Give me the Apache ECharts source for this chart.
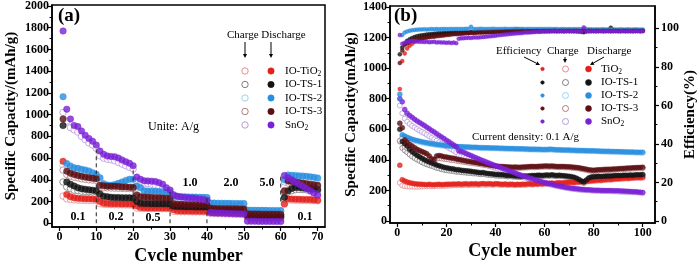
<!DOCTYPE html>
<html><head><meta charset="utf-8">
<script src="https://cdn.jsdelivr.net/npm/echarts@6/dist/echarts.min.js"></script>
<style>html,body{margin:0;padding:0;background:#fff}#c{width:700px;height:261px}</style>
</head><body><div id="c"></div>
<script>
// ---------- Panel (a): rate capability, 70 cycles ----------
const cyclesA = Array.from({length:70},(_,i)=>i+1);
const tio2D_a = [570,265,245,235,230,228,226,225,224,222, 200,185,182,180,180,179,178,178,177,176, 160,145,143,142,142,141,141,140,140,139, 125,115,114,113,113,112,112,111,111,110, 100,96,95,95,94,94,93,93,92,92, 60,56,55,55,54,54,54,53,53,52, 180,225,223,222,221,220,219,218,215,212];
const tio2C_a = [250,225,220,216,213,212,212,211,210,210, 180,175,173,172,171,170,170,169,168,168, 140,138,137,137,136,136,136,135,135,135, 110,108,107,107,106,106,105,105,105,104, 92,90,90,89,89,88,88,88,87,87, 53,52,52,51,51,51,50,50,50,50, 175,215,214,213,212,212,211,210,209,208];
const ts1D_a = [900,380,360,343,328,319,313,308,305,300, 270,250,245,240,238,237,236,235,235,234, 200,185,183,182,181,180,180,179,179,178, 158,155,154,153,152,152,151,151,150,150, 125,123,122,122,121,121,120,120,120,119, 72,70,70,69,69,68,68,68,67,67, 240,300,320,330,330,325,322,318,315,310];
const ts1C_a = [380,335,320,305,300,296,293,292,290,289, 245,232,230,228,227,226,226,225,225,224, 185,178,176,175,175,174,174,173,173,172, 150,148,147,147,146,146,146,145,145,145, 120,118,118,117,117,117,116,116,116,115, 68,67,66,66,66,65,65,65,65,64, 225,290,300,310,312,310,308,305,302,300];
const ts2D_a = [1165,550,527,512,507,497,491,482,466,451, 420,365,352,350,358,368,380,395,405,405, 343,328,300,297,296,295,293,290,287,282, 250,247,245,244,243,242,241,240,239,238, 188,186,185,185,184,184,183,183,182,182, 122,121,120,120,119,119,118,118,118,117, 400,445,442,440,437,435,432,428,424,418];
const ts2C_a = [530,520,505,495,490,482,476,466,455,440, 400,350,345,345,348,355,365,375,385,390, 320,308,290,286,285,283,282,280,278,275, 240,238,237,236,236,235,235,234,233,232, 180,179,178,178,178,177,177,177,176,176, 115,114,114,113,113,113,112,112,112,111, 390,430,428,425,422,420,418,415,410,405];
const ts3D_a = [960,480,460,450,440,432,425,420,415,410, 350,345,342,340,340,338,335,335,332,330, 260,245,242,240,238,236,235,233,230,228, 180,176,175,174,173,172,172,171,170,170, 138,136,135,135,134,134,133,133,132,132, 88,86,85,85,84,84,84,83,83,82, 300,390,385,380,375,370,365,360,355,350];
const ts3C_a = [490,450,435,425,418,410,405,400,398,395, 330,328,326,325,324,323,322,321,320,320, 240,235,232,230,228,226,225,223,221,220, 168,166,165,165,164,164,163,163,162,162, 130,128,128,127,127,127,126,126,126,125, 82,81,80,80,80,79,79,79,78,78, 290,370,366,362,358,354,350,347,344,340];
const sno2D_a = [1770,1050,960,900,890,850,810,780,755,720, 665,635,620,615,612,600,583,567,552,530, 425,405,392,390,388,385,374,359,328,306, 262,248,243,238,235,232,228,224,218,212, 100,97,95,94,92,91,90,88,87,85, 22,21,21,20,20,20,19,19,18,18, 440,420,400,380,360,340,320,300,280,260];
const sno2C_a = [1020,940,880,860,840,800,770,740,720,690, 620,600,590,585,575,560,545,530,515,500, 390,380,370,365,360,350,340,325,300,285, 245,235,230,226,222,218,214,210,205,200, 95,92,90,89,88,86,85,84,82,80, 18,18,17,17,17,16,16,16,15,15, 380,400,385,370,350,335,315,295,275,255];
const rateLabels = ['0.1','0.2','0.5','1.0','2.0','5.0','0.1'];
const dividerX = [10,20,30,40,60];
const dividerLow = [0,0,0,0,200];
const dividerHigh = [700,520,290,240,430];
const xTicksA = [0,10,20,30,40,50,60,70];
const yTicksA = [0,200,400,600,800,1000,1200,1400,1600,1800,2000];

// ---------- Panel (b): cycling at 0.1 A/g, 100 cycles ----------
const cyclesB = Array.from({length:100},(_,i)=>i+1);
const tio2D_b = [365,270,262,255,250,247,244,242,241,240, 239,238,240,238,237,239,240,238,239,240, 241,240,242,241,243,240,242,244,241,243, 242,244,241,243,245,242,244,243,241,244, 243,241,240,242,239,241,240,238,240,239, 241,240,242,243,241,244,242,245,243,246, 245,247,248,246,249,250,248,251,252,253, 254,252,255,256,258,257,260,262,263,265, 266,268,267,270,271,273,272,275,276,277, 278,279,281,280,282,283,284,285,284,286];
const tio2C_b = [250,232,228,226,225,225,224,224,225,225, 226,226,228,227,227,229,230,229,230,231, 232,232,234,233,235,233,235,237,234,236, 236,238,235,237,239,236,238,238,236,239, 238,236,236,238,235,237,236,234,236,235, 237,236,238,239,237,240,239,241,240,243, 242,244,245,243,246,247,246,248,249,250, 251,250,252,253,255,255,257,259,260,262, 263,265,264,267,268,270,269,272,273,274, 275,276,278,277,279,280,281,282,281,283];
const tio2E_b = [68.5,83,87,89.5,91,92,93,93.7,94.3,94.8, 95.2,95.5,95.8,96.0,96.2,96.4,96.6,96.7,96.9,97.0, 97.1,97.2,97.3,97.4,97.5,97.5,97.6,97.7,97.7,97.8, 97.9,97.9,98.0,98.0,98.1,98.1,98.2,98.2,98.3,98.3, 98.4,98.4,98.5,98.6,98.7,98.8,99.0,99.3,99.5,99.4, 99.2,99.0,98.9,98.8,98.8,98.7,98.8,98.7,98.8,98.7, 98.8,98.7,98.8,98.8,98.7,98.8,98.7,98.8,98.8,98.7, 98.8,98.8,98.7,98.8,98.8,98.7,98.8,98.8,98.7,98.8, 98.8,98.7,98.8,98.8,98.7,98.8,98.8,98.7,98.8,98.8, 98.7,98.8,98.8,98.7,98.8,98.8,98.7,98.8,98.8,98.8];
const ts1D_b = [600,520,505,490,470,455,442,430,420,410, 400,393,386,380,373,366,361,356,351,348, 345,342,340,336,335,332,330,328,327,325, 322,321,318,316,317,313,311,309,308,305, 304,302,303,300,298,299,296,295,294,292, 293,295,294,296,298,297,299,300,298,300, 301,300,302,299,298,300,297,296,294,292, 290,286,280,272,262,255,268,282,288,290, 291,292,291,293,294,295,294,296,297,298, 297,299,300,299,301,300,302,303,302,304];
const ts1C_b = [520,478,462,450,435,422,412,402,394,385, 377,371,365,360,354,348,344,339,335,332, 330,327,326,322,322,319,318,316,315,314, 311,311,308,306,307,304,302,300,300,297, 296,295,296,293,291,293,290,289,288,287, 288,290,289,291,293,292,294,295,293,295, 296,295,297,294,293,295,292,291,289,287, 285,281,275,266,255,248,262,276,283,285, 286,287,286,288,289,290,289,291,292,293, 292,294,295,294,296,295,297,298,297,299];
const ts1E_b = [86.5,90.0,92.0,93.5,94.3,95.0,95.5,95.9,96.2,96.4, 96.6,96.8,96.9,97.1,97.2,97.3,97.4,97.5,97.6,97.6, 97.7,97.7,97.8,97.8,97.9,97.9,98.0,98.0,98.0,98.1, 98.1,98.1,98.2,98.2,98.2,98.3,98.3,98.3,98.3,98.4, 98.4,98.4,98.4,98.5,98.4,98.5,98.5,98.5,98.5,98.6, 98.5,98.6,98.6,98.5,98.6,98.6,98.7,98.6,98.6,98.7, 98.6,98.7,98.7,98.6,98.7,98.7,98.6,98.7,98.7,98.6, 98.7,98.6,98.5,98.4,98.2,98.0,98.5,98.8,98.7,98.7, 98.7,98.7,98.8,98.7,98.7,98.8,100.3,98.7,98.8,98.8, 98.7,98.8,98.8,98.7,98.8,98.8,98.7,98.8,98.8,98.8];
const ts2D_b = [830,565,556,548,541,535,530,526,522,518, 515,512,509,506,503,501,499,497,495,493, 491,490,489,488,487,486,485,484,484,483, 482,482,481,480,480,479,479,478,478,477, 477,476,476,475,475,474,474,473,473,472, 472,471,471,470,470,470,469,469,468,468, 468,470,469,467,466,466,465,465,464,464, 463,463,462,462,461,461,460,460,459,459, 458,458,457,457,456,456,455,455,454,454, 453,453,452,452,451,451,450,450,449,449];
const ts2C_b = [525,550,545,539,533,528,524,520,516,513, 510,507,504,502,499,497,495,493,491,489, 488,487,486,485,484,483,482,481,481,480, 479,479,478,477,477,476,476,475,475,474, 474,473,473,472,472,471,471,470,470,469, 469,468,468,467,467,467,466,466,465,465, 465,467,466,464,463,463,462,462,461,461, 460,460,459,459,458,458,457,457,456,456, 455,455,454,454,453,453,452,452,451,451, 450,450,449,449,448,448,447,447,446,446];
const ts2E_b = [63.5,96.5,97.8,98.4,98.8,99.0,99.2,99.3,99.4,99.4, 99.5,99.4,99.5,99.6,99.5,99.6,99.5,99.6,99.7,99.6, 99.6,99.7,99.6,99.7,99.6,99.7,99.6,99.8,99.7,100.8, 99.7,99.6,99.7,99.8,99.7,99.6,99.7,99.7,99.8,99.7, 99.6,99.7,99.7,99.8,99.6,99.7,99.7,99.8,99.7,99.6, 99.7,99.6,99.7,99.7,99.6,99.7,99.6,99.7,99.6,99.7, 99.6,99.7,99.6,99.6,99.7,99.5,99.6,99.6,99.5,99.6, 99.5,99.6,99.5,99.6,99.5,99.5,99.6,99.5,99.5,99.4, 99.5,99.4,99.5,99.5,99.4,99.5,99.4,99.5,99.4,99.4, 99.5,99.4,99.4,99.5,99.4,99.4,99.5,99.4,99.4,99.4];
const ts3D_b = [640,610,530,515,500,490,480,470,462,455, 448,440,425,408,402,425,428,425,421,418, 415,412,410,406,402,399,396,393,390,388, 385,382,380,377,374,371,368,365,362,360, 358,357,356,355,354,353,352,353,352,352, 353,354,355,356,357,356,357,358,359,360, 360,359,360,358,357,356,357,356,355,355, 353,352,350,348,345,342,339,335,333,332, 334,335,336,337,338,338,339,340,341,342, 343,344,345,346,347,348,349,350,350,351];
const ts3C_b = [525,540,485,475,465,458,451,443,437,431, 425,419,405,390,385,407,411,409,406,404, 402,399,398,394,391,389,386,384,381,380, 377,375,373,370,367,365,362,359,357,355, 353,352,351,350,349,348,347,348,347,347, 348,349,350,351,352,351,352,353,354,355, 355,354,355,353,352,351,352,351,350,350, 348,347,345,343,340,337,334,330,328,327, 329,330,331,332,333,333,334,335,336,337, 338,339,340,341,342,343,344,345,345,346];
const ts3E_b = [82.0,88.5,91.5,92.2,93.0,93.5,94.0,94.3,94.6,94.8, 95.0,95.2,95.4,95.6,95.7,95.9,96.0,96.2,96.3,96.5, 96.6,96.8,96.9,97.0,97.1,97.2,97.3,97.4,97.5,97.6, 97.6,97.7,97.8,97.8,97.9,97.9,98.0,98.0,98.1,98.1, 98.2,98.2,98.2,98.3,98.3,98.3,98.4,98.4,98.4,98.4, 98.5,98.4,98.5,98.5,98.5,98.5,98.6,98.5,98.6,98.6, 98.6,98.6,98.6,98.7,98.6,98.6,98.7,98.6,98.7,98.7, 98.6,98.7,98.7,98.6,98.7,98.7,98.6,98.7,98.7,98.6, 98.7,98.7,98.6,98.7,98.7,98.7,98.6,98.7,98.7,98.7, 98.6,98.7,98.7,98.7,98.6,98.7,98.7,98.7,98.6,98.7];
const sno2D_b = [800,780,730,705,690,678,666,655,645,635, 625,614,603,592,582,571,560,550,539,528, 518,507,497,486,460,455,450,442,435,428, 421,414,407,400,394,388,381,375,368,362, 356,350,344,338,332,326,320,314,308,302, 296,291,286,281,276,271,266,261,256,252, 248,244,240,236,232,229,226,223,220,217, 215,213,211,209,207,206,205,204,203,202, 201,201,200,200,199,199,199,198,198,198, 197,196,195,194,193,192,191,190,188,187];
const sno2C_b = [755,705,670,650,635,622,612,602,592,583, 574,564,554,544,535,525,515,506,497,488, 478,469,460,450,428,423,419,413,407,401, 399,392,386,380,375,369,363,358,352,347, 341,336,331,326,320,315,310,305,300,294, 289,284,280,275,270,266,261,256,252,248, 244,240,236,232,228,225,222,219,216,213, 211,209,207,205,203,202,201,200,199,198, 197,197,196,196,195,195,194,194,193,192, 191,191,190,189,188,188,187,186,185,184];
const sno2E_b = [96.5,92.0,92.5,93.0,93.3,93.4,93.3,93.2,93.0,93.0, 92.9,93.0,92.8,92.9,93.0,92.7,92.8,92.6,92.7,92.5, 92.6,92.4,92.6,92.3,94.6,94.8,94.9,95.0,95.1,95.0, 95.2,95.3,95.2,95.4,95.5,95.6,95.8,95.9,96.0,96.2, 96.4,96.5,96.7,96.8,96.9,97.1,97.2,97.3,97.4,97.5, 97.6,97.8,97.8,97.9,98.0,98.1,98.2,98.2,98.3,98.3, 98.4,98.4,98.5,98.5,98.4,98.5,98.5,98.4,98.5,98.5, 98.5,98.4,98.5,98.5,98.4,100.5,98.5,98.4,98.5,98.5, 98.4,98.5,98.5,98.4,98.5,98.5,98.4,98.5,98.5,98.4, 98.5,98.5,98.4,98.5,98.5,98.4,98.5,98.5,98.4,98.5];
const xTicksB = [0,20,40,60,80,100];
const yTicksB = [0,200,400,600,800,1000,1200,1400];
const effTicksB = [0,20,40,60,80,100];

// ---------- styling ----------
const FONT = 'Liberation Serif';
const names = ['IO-TiO{s|2}','IO-TS-1','IO-TS-2','IO-TS-3','SnO{s|2}'];
const namesB = ['TiO{s|2}','IO-TS-1','IO-TS-2','IO-TS-3','SnO{s|2}'];
const fillCol = ['#e3201b','#141414','#2b8ee0','#5c1013','#7a20d6'];
const hollowCol = ['#e58d92','#7d7d7d','#9fd2ef','#b07d80','#b79ad9'];

function pts(xs, ys){ return xs.map((x,i)=>[x, ys[i]]); }
function scat(xi, yi, xs, ys, filled, k, size, z){
  return {type:'scatter', xAxisIndex:xi, yAxisIndex:yi, data:pts(xs,ys), symbol:'circle', symbolSize:size, silent:true, z:z||2,
    itemStyle: filled ? {color:fillCol[k], borderColor:fillCol[k], borderWidth:0.5} : {color:'#fff', borderColor:hollowCol[k], borderWidth:1}};
}
const series = [];
const chargeA = [tio2C_a, ts1C_a, ts2C_a, ts3C_a, sno2C_a];
const dischA = [tio2D_a, ts1D_a, ts2D_a, ts3D_a, sno2D_a];
chargeA.forEach((d,k)=>series.push(scat(0,0,cyclesA,d,false,k,6.5,2)));
dischA.forEach((d,k)=>series.push(scat(0,0,cyclesA,d,true,k,6.5,3)));
dividerX.forEach((x,i)=>series.push({type:'line', xAxisIndex:0, yAxisIndex:0, data:[[x,dividerLow[i]],[x,dividerHigh[i]]], symbol:'none', silent:true, z:4,
  lineStyle:{color:'#222', width:1, type:[4,3]}}));
const chargeB = [tio2C_b, ts1C_b, ts2C_b, ts3C_b, sno2C_b];
const dischB = [tio2D_b, ts1D_b, ts2D_b, ts3D_b, sno2D_b];
const effB = [tio2E_b, ts1E_b, ts2E_b, ts3E_b, sno2E_b];
chargeB.forEach((d,k)=>series.push(scat(2,2,cyclesB,d,false,k,5,2)));
dischB.forEach((d,k)=>series.push(scat(2,2,cyclesB,d,true,k,5,3)));
effB.forEach((d,k)=>series.push(scat(2,4,cyclesB,d,true,k,4,3)));

const tickLbl = (size)=>({fontFamily:FONT, fontWeight:'bold', fontSize:size, color:'#000'});
const nameStyle = (size)=>({fontFamily:FONT, fontWeight:'bold', fontSize:size, color:'#000'});
const axLine = {show:true, onZero:false, lineStyle:{color:'#000', width:1.5}};
function majorAxis(extra, ticks, lblSize, margin){
  return Object.assign({type:'value', axisLine:axLine, splitLine:{show:false},
    axisTick:{show:true, customValues:ticks, length:4, lineStyle:{color:'#000', width:1.2}},
    axisLabel:Object.assign({show:true, customValues:ticks, margin:margin, formatter:(v)=>String(v)}, tickLbl(lblSize))}, extra);
}
function minorAxis(extra, ticks){
  return Object.assign({type:'value', axisLine:{show:false, onZero:false}, splitLine:{show:false}, axisLabel:{show:false},
    axisTick:{show:true, customValues:ticks, length:2.5, lineStyle:{color:'#000', width:1}}}, extra);
}
const mids = (arr)=>arr.slice(0,-1).map((v,i)=>(v+arr[i+1])/2);

const gridBase = {show:true, borderColor:'#000', borderWidth:1.5, backgroundColor:'transparent', containLabel:false, outerBoundsMode:'none'};
const option = {
  animation:false,
  backgroundColor:'#fff',
  grid:[
    Object.assign({left:52, top:5, width:273, height:222}, gridBase),
    Object.assign({left:390, top:6, width:265, height:217}, gridBase)
  ],
  xAxis:[
    majorAxis({gridIndex:0, position:'bottom', min:-2, max:72, name:'Cycle number', nameLocation:'middle', nameGap:20, nameMoveOverlap:false, nameTextStyle:nameStyle(18)}, xTicksA, 12, 4),
    minorAxis({gridIndex:0, position:'bottom', min:-2, max:72}, mids(xTicksA)),
    majorAxis({gridIndex:1, position:'bottom', min:-3, max:105, name:'Cycle number', nameLocation:'middle', nameGap:19, nameMoveOverlap:false, nameTextStyle:nameStyle(18)}, xTicksB, 12, 4),
    minorAxis({gridIndex:1, position:'bottom', min:-3, max:105}, mids(xTicksB))
  ],
  yAxis:[
    majorAxis({gridIndex:0, position:'left', min:-34, max:2009, name:'Specific Capacity/(mAh/g)', nameLocation:'middle', nameGap:33, nameTextStyle:nameStyle(15)}, yTicksA, 12, 3),
    minorAxis({gridIndex:0, position:'left', min:-34, max:2009}, mids(yTicksA)),
    majorAxis({gridIndex:1, position:'left', min:-13, max:1406.5, name:'Specific Capacity(mAh/g)', nameLocation:'middle', nameGap:30, nameTextStyle:nameStyle(15)}, yTicksB, 12, 3),
    minorAxis({gridIndex:1, position:'left', min:-13, max:1406.5}, mids(yTicksB)),
    majorAxis({gridIndex:1, position:'right', min:-1.04, max:111.6, name:'Efficiency(%)', nameLocation:'middle', nameGap:28, nameTextStyle:nameStyle(15)}, effTicksB, 12, 6),
    minorAxis({gridIndex:1, position:'right', min:-1.04, max:111.6}, mids(effTicksB))
  ],
  series: series
};

// ---------- annotations / legends (graphic) ----------
const rich = {s:{fontFamily:FONT, fontSize:7.5, padding:[6,0,0,0]}};
function txt(x,y,text,size,bold,align){
  return {type:'text', x:x, y:y, silent:true, z:10, style:{text:text, fontFamily:FONT, fontSize:size, fontWeight:bold?'bold':'normal', fill:'#000', align:align||'left', verticalAlign:'middle', rich:rich}};
}
function circ(cx,cy,r,filled,k){
  return {type:'circle', silent:true, z:10, shape:{cx:cx, cy:cy, r:r}, style: filled ? {fill:fillCol[k], stroke:fillCol[k], lineWidth:0.5} : {fill:'#fff', stroke:hollowCol[k], lineWidth:1}};
}
function arrow(x1,y1,x2,y2){
  const a = Math.atan2(y2-y1, x2-x1), L=4, W=2;
  const bx = x2 - L*Math.cos(a), by = y2 - L*Math.sin(a);
  return [
    {type:'line', silent:true, z:10, shape:{x1:x1,y1:y1,x2:bx,y2:by}, style:{stroke:'#000', lineWidth:1}},
    {type:'polygon', silent:true, z:10, shape:{points:[[x2,y2],[bx - W*Math.sin(a), by + W*Math.cos(a)],[bx + W*Math.sin(a), by - W*Math.cos(a)]]}, style:{fill:'#000'}}
  ];
}
const g = [];
g.push(txt(58,16,'(a)',19,true));
g.push(txt(394,16,'(b)',19,true));
// panel (a) legend
g.push(txt(227,35,'Charge Discharge',11,false));
g.push(...arrow(245,42,245,58));
g.push(...arrow(271,42,271,58));
const rowA = [71,84.5,98,111.5,125];
rowA.forEach((y,k)=>{ g.push(circ(245,y,3.2,false,k)); g.push(circ(271,y,3.2,true,k)); g.push(txt(285,y,names[k],11,false)); });
g.push(txt(148,127,'Unite: A/g',12,false));
// rate labels
const ratePos = [[78,217],[116,217],[153,218],[190,183],[231,183],[267,183],[305,217]];
rateLabels.forEach((t,i)=>g.push(txt(ratePos[i][0], ratePos[i][1], t, 12, true, 'center')));
// panel (b) legend
g.push(txt(496,51,'Efficiency',11,false));
g.push(txt(547,51,'Charge',11,false));
g.push(txt(587,51,'Discharge',11,false));
g.push(...arrow(524,57,540,65));
g.push(...arrow(565,57,565,63));
g.push(...arrow(604,57,590,65));
const rowB = [69,82.5,95.5,108.5,121.5];
rowB.forEach((y,k)=>{ g.push(circ(542.5,y,1.8,true,k)); g.push(circ(565.5,y,3,false,k)); g.push(circ(588.5,y,3,true,k)); g.push(txt(601,y,namesB[k],11,false)); });
g.push(txt(472,137,'Current density: 0.1 A/g',11,false));
option.graphic = {elements:g};

const chart = echarts.init(document.getElementById('c'), null, {renderer:'canvas'});
chart.setOption(option);
</script>
</body></html>
